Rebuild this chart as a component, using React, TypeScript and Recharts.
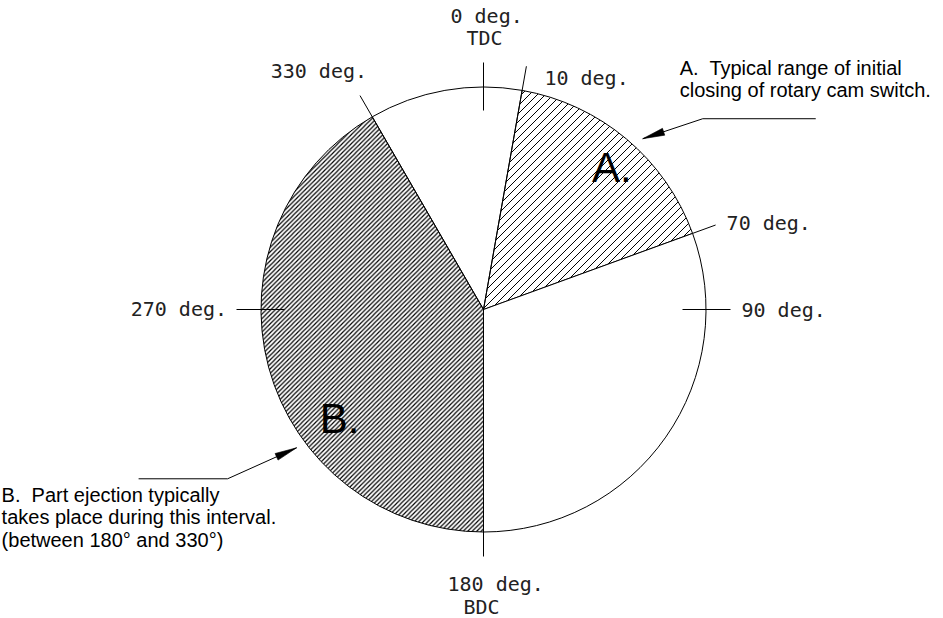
import React from 'react';
import { PieChart, Pie, Cell } from 'recharts';

// ---- data ----
// Sectors of the crank cycle, clockwise from 330 deg.
const sectorNames = ['330-10', 'A: 10-70', '70-180', 'B: 180-330'];
const sectorSpans = [40, 60, 110, 150];
const sectorFills = ['#ffffff', 'url(#hatchA)', '#ffffff', 'url(#hatchB)'];
const sectorStartDeg = 330;

// Marked crank angles and their labels
const markerDegrees = [0, 10, 70, 90, 180, 270, 330];
const markerLabels = [
  ['0 deg.', 'TDC'],
  ['10 deg.'],
  ['70 deg.'],
  ['90 deg.'],
  ['180 deg.', 'BDC'],
  ['270 deg.'],
  ['330 deg.'],
];
const markerKinds = ['tick', 'leader', 'leader', 'tick', 'tick', 'tick', 'leader'];

const noteA = ['A.  Typical range of initial', 'closing of rotary cam switch.'];
const noteB = ['B.  Part ejection typically', 'takes place during this interval.', '(between 180° and 330°)'];
const bigLetters = ['', 'A.', '', 'B.'];

// ---- derived tables ----
const sectorData = sectorNames.map((name, i) => ({ name, value: sectorSpans[i] }));
const markerData = markerDegrees.map((d, i) => ({
  name: markerLabels[i].join(' '),
  value: (i < markerDegrees.length - 1 ? markerDegrees[i + 1] : 360) - d,
}));

const W = 943;
const H = 618;
const CX = 483.5;
const CY = 309.5;
const R = 222.5;

const CAD_FONT = '"DejaVu Sans Mono", "Liberation Mono", monospace';
const NOTE_FONT = '"Liberation Sans", Arial, sans-serif';

const polar = (cx: number, cy: number, r: number, angle: number) => {
  const rad = (-angle * Math.PI) / 180;
  return { x: cx + Math.cos(rad) * r, y: cy + Math.sin(rad) * r };
};

const Arrow = ({ tip, elbow, end }: any) => {
  const dx = elbow.x - tip.x;
  const dy = elbow.y - tip.y;
  const len = Math.hypot(dx, dy);
  const ux = dx / len;
  const uy = dy / len;
  const hl = 22;
  const hw = 3.6;
  const bx = tip.x + ux * hl;
  const by = tip.y + uy * hl;
  const pts = `${tip.x},${tip.y} ${bx - uy * hw},${by + ux * hw} ${bx + uy * hw},${by - ux * hw}`;
  return (
    <g>
      <polyline points={`${tip.x},${tip.y} ${elbow.x},${elbow.y} ${end.x},${end.y}`} fill="none" stroke="#000" strokeWidth={1} />
      <polygon points={pts} fill="#000" stroke="#000" strokeWidth={0.6} />
    </g>
  );
};

const renderSectorLabel = (props: any) => {
  const { cx, cy, outerRadius, midAngle, index } = props;
  if (index === 1) {
    const letter = polar(cx, cy, outerRadius * 0.855, midAngle - 1.6);
    const tip = polar(cx, cy, outerRadius + 11, midAngle - 3);
    const elbow = { x: tip.x + 60, y: tip.y - 20 };
    const end = { x: elbow.x + 113, y: elbow.y };
    return (
      <g>
        <text x={letter.x + 2} y={letter.y + 15} textAnchor="middle" fontFamily={NOTE_FONT} fontSize={42} fill="#000">
          {bigLetters[1]}
        </text>
        <Arrow tip={tip} elbow={elbow} end={end} />
        {noteA.map((t, i) => (
          <text key={i} x={elbow.x - 23} y={elbow.y - 44 + i * 22} fontFamily={NOTE_FONT} fontSize={20} fill="#000" style={{ whiteSpace: 'pre' }}>
            {t}
          </text>
        ))}
      </g>
    );
  }
  if (index === 3) {
    const letter = polar(cx, cy, outerRadius * 0.81, midAngle + 22);
    const tip = polar(cx, cy, outerRadius + 10, midAngle + 21.5);
    const elbow = { x: tip.x - 69, y: tip.y + 31 };
    const end = { x: elbow.x - 89, y: elbow.y };
    return (
      <g>
        <text x={letter.x} y={letter.y + 15} textAnchor="middle" fontFamily={NOTE_FONT} fontSize={42} fill="#000">
          {bigLetters[3]}
        </text>
        <Arrow tip={tip} elbow={elbow} end={end} />
        {noteB.map((t, i) => (
          <text key={i} x={elbow.x - 226} y={elbow.y + 23 + i * 22.5} fontFamily={NOTE_FONT} fontSize={20} fill="#000" style={{ whiteSpace: 'pre' }}>
            {t}
          </text>
        ))}
      </g>
    );
  }
  return null;
};

const renderMarker = (props: any) => {
  const { cx, cy, outerRadius, startAngle, index } = props;
  const kind = markerKinds[index];
  const crank = markerDegrees[index];
  const lines = markerLabels[index];
  const rIn = kind === 'tick' ? outerRadius - 23.5 : outerRadius;
  const rOut = outerRadius + 24.5;
  const p0 = polar(cx, cy, rIn, startAngle);
  const p1 = polar(cx, cy, rOut, startAngle);

  let items: { x: number; y: number; t: string; anchor: string }[] = [];
  if (crank === 0) {
    items = [
      { x: p1.x - 33, y: p1.y - 40, t: lines[0], anchor: 'start' },
      { x: p1.x - 17, y: p1.y - 18, t: lines[1], anchor: 'start' },
    ];
  } else if (crank === 180) {
    items = [
      { x: p1.x - 36, y: p1.y + 34, t: lines[0], anchor: 'start' },
      { x: p1.x - 20, y: p1.y + 57, t: lines[1], anchor: 'start' },
    ];
  } else if (crank < 180) {
    const dx = crank < 45 ? 18 : 11;
    const dy = crank < 45 ? 19 : crank < 80 ? 5 : 7.5;
    items = [{ x: p1.x + dx, y: p1.y + dy, t: lines[0], anchor: 'start' }];
  } else {
    const dx = crank > 300 ? 7 : -9.5;
    const dy = crank > 300 ? -17.5 : 6.5;
    items = [{ x: p1.x + dx, y: p1.y + dy, t: lines[0], anchor: 'end' }];
  }

  return (
    <g>
      <line x1={p0.x} y1={p0.y} x2={p1.x} y2={p1.y} stroke="#000" strokeWidth={1} />
      {items.map((it, i) => (
        <text key={i} x={it.x} y={it.y} textAnchor={it.anchor as any} fontFamily={CAD_FONT} fontSize={20} fill="#222" style={{ whiteSpace: 'pre' }}>
          {it.t}
        </text>
      ))}
    </g>
  );
};

export default function App() {
  return (
    <div style={{ position: 'absolute', left: 0, top: 0, width: W, height: H, background: '#fff' }}>
      <PieChart width={W} height={H} margin={{ top: 0, right: 0, bottom: 0, left: 0 }}>
        <defs>
          <pattern id="hatchA" patternUnits="userSpaceOnUse" width={8} height={8}>
            <path d="M-2,2 L2,-2 M0,8 L8,0 M6,10 L10,6" stroke="#000" strokeWidth={1} />
          </pattern>
          <pattern id="hatchB" patternUnits="userSpaceOnUse" width={4.5} height={4.5}>
            <path d="M-1,1 L1,-1 M0,4.5 L4.5,0 M3.5,5.5 L5.5,3.5" stroke="#000" strokeWidth={1.2} />
          </pattern>
        </defs>
        <Pie
          data={sectorData}
          dataKey="value"
          nameKey="name"
          cx={CX}
          cy={CY}
          innerRadius={0}
          outerRadius={R}
          startAngle={90 - sectorStartDeg}
          endAngle={90 - sectorStartDeg - 360}
          stroke="#000"
          strokeWidth={1}
          label={renderSectorLabel}
          labelLine={false}
          isAnimationActive={false}
        >
          {sectorData.map((d, i) => (
            <Cell key={d.name} fill={sectorFills[i]} stroke="#000" strokeWidth={1} />
          ))}
        </Pie>
        <Pie
          data={markerData}
          dataKey="value"
          nameKey="name"
          cx={CX}
          cy={CY}
          innerRadius={0}
          outerRadius={R}
          startAngle={90}
          endAngle={-270}
          fill="none"
          stroke="none"
          label={renderMarker}
          labelLine={false}
          isAnimationActive={false}
        />
      </PieChart>
    </div>
  );
}
